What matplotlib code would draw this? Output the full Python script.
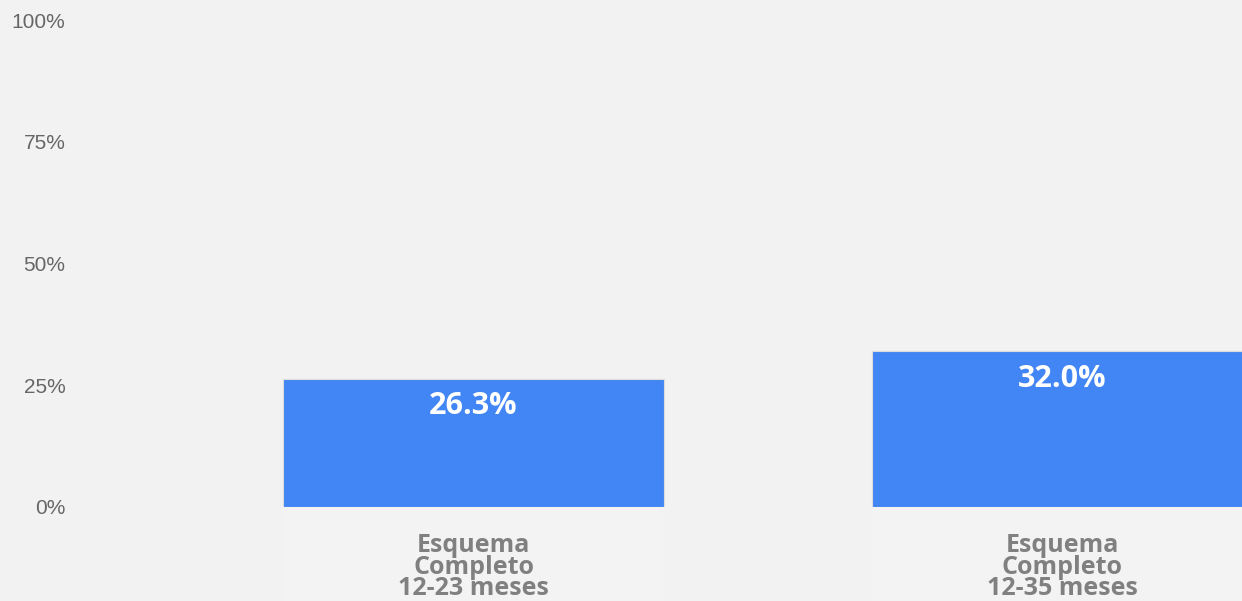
import matplotlib.pyplot as plt
from matplotlib.ticker import FuncFormatter

# datos
categorias = ["Esquema\nCompleto\n12-23 meses", "Esquema\nCompleto\n12-35 meses"]
valores = [26.3, 32.0]
etiquetas = ["26.3%", "32.0%"]
ticks_y = [0, 25, 50, 75, 100]

fondo = "#f2f2f2"
azul = "#4285f4"

fig = plt.figure(figsize=(12.42, 6.01), dpi=100, facecolor=fondo)
# ejes: izquierda en 75px, cero en y=507px, 100% en y=20px
ax = fig.add_axes([75 / 1242, (601 - 507) / 601, 1 - 75 / 1242, (507 - 20) / 601])
ax.set_facecolor(fondo)

x = list(range(len(categorias)))
ancho = 381 / 588.5
# banda clara bajo las barras
ax.bar(x, [-19.3] * len(x), width=ancho, color="#f3f3f3", clip_on=False, zorder=0)
barras = ax.bar(x, valores, width=ancho, color=azul, edgecolor="#dcdcdc", linewidth=0.8, zorder=2)

for b, txt in zip(barras, etiquetas):
    ax.annotate(txt, (b.get_x() + b.get_width() / 2, b.get_height()),
                xytext=(0, -9), textcoords="offset points", ha="center", va="top",
                color="white", fontsize=22, fontweight="bold", family="Open Sans", zorder=3)

ax.set_xlim((75 - 473.5) / 588.5, (1242 - 473.5) / 588.5)
ax.set_ylim(0, 100)
ax.set_yticks(ticks_y)
ax.yaxis.set_major_formatter(FuncFormatter(lambda v, p: f"{v:.0f}%"))
ax.set_xticks(x)
ax.set_xticklabels(categorias, fontsize=18, fontweight="bold", family="Open Sans",
                   color="#808080", linespacing=0.8)
ax.tick_params(axis="x", length=0, pad=19)
ax.tick_params(axis="y", length=0, pad=7, labelsize=15, labelcolor="#666666")
for lbl in ax.get_yticklabels():
    lbl.set_family("Liberation Sans")
for s in ax.spines.values():
    s.set_visible(False)

plt.savefig("out.png", dpi=100, facecolor=fondo)
